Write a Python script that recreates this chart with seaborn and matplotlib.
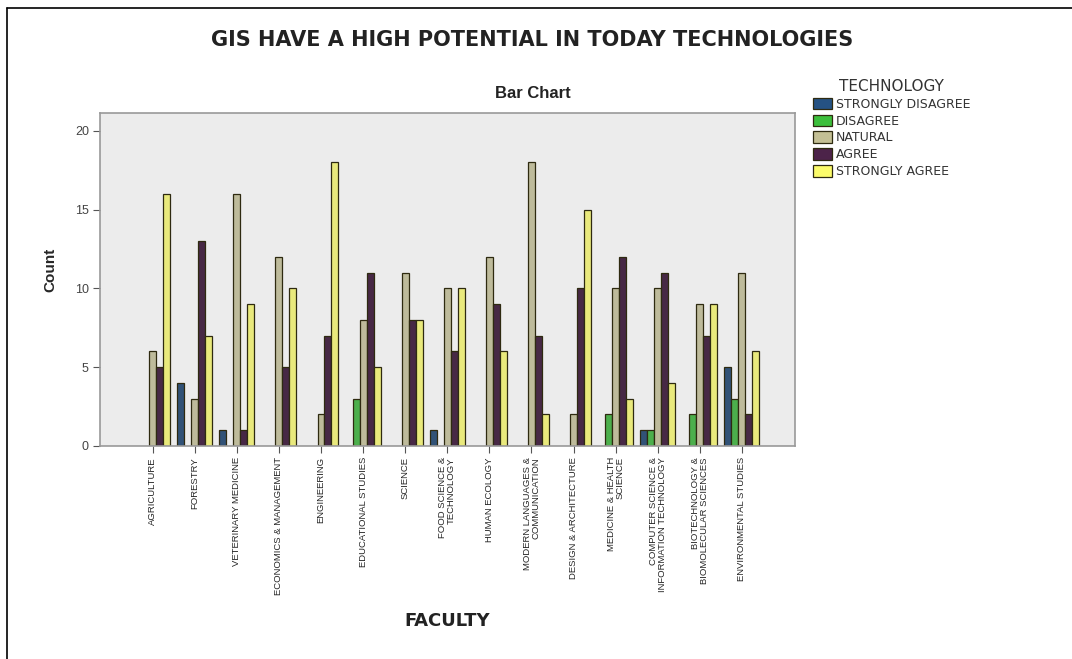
import pandas as pd
import matplotlib
matplotlib.use('Agg')
import matplotlib.pyplot as plt
import seaborn as sns
from matplotlib.lines import Line2D

faculties = [
    'AGRICULTURE', 'FORESTRY', 'VETERINARY MEDICINE', 'ECONOMICS & MANAGEMENT',
    'ENGINEERING', 'EDUCATIONAL STUDIES', 'SCIENCE', 'FOOD SCIENCE &\nTECHNOLOGY',
    'HUMAN ECOLOGY', 'MODERN LANGUAGES &\nCOMMUNICATION', 'DESIGN & ARCHITECTURE',
    'MEDICINE & HEALTH\nSCIENCE', 'COMPUTER SCIENCE &\nINFORMATION TECHNOLOGY',
    'BIOTECHNOLOGY &\nBIOMOLECULAR SCIENCES', 'ENVIRONMENTAL STUDIES',
]
levels = ['STRONGLY DISAGREE', 'DISAGREE', 'NATURAL', 'AGREE', 'STRONGLY AGREE']

strongly_disagree = [0, 4, 1, 0, 0, 0, 0, 1, 0, 0, 0, 0, 1, 0, 5]
disagree = [0, 0, 0, 0, 0, 3, 0, 0, 0, 0, 0, 2, 1, 2, 3]
natural = [6, 3, 16, 12, 2, 8, 11, 10, 12, 18, 2, 10, 10, 9, 11]
agree = [5, 13, 1, 5, 7, 11, 8, 6, 9, 7, 10, 12, 11, 7, 2]
strongly_agree = [16, 7, 9, 10, 18, 5, 8, 10, 6, 2, 15, 3, 4, 9, 6]

colors = ['#255283', '#3cbf3c', '#c4c095', '#4c2349', '#fbfb6a']

rows = []
for lvl, vals in zip(levels, [strongly_disagree, disagree, natural, agree, strongly_agree]):
    for fac, v in zip(faculties, vals):
        if v > 0:
            rows.append({'FACULTY': fac, 'TECHNOLOGY': lvl, 'Count': v})
df = pd.DataFrame(rows)

sns.set_style('white')
plt.rcParams['font.family'] = ['Liberation Sans', 'DejaVu Sans']

fig = plt.figure(figsize=(10.72, 6.59), dpi=100)
ax = fig.add_axes([100 / 1072, 1 - 446 / 659, 695 / 1072, 333 / 659])
ax.set_facecolor('#ececec')

sns.barplot(data=df, x='FACULTY', y='Count', hue='TECHNOLOGY', order=faculties,
            hue_order=levels, palette=colors, width=0.83, edgecolor='#2e2a10',
            linewidth=0.9, ax=ax, legend=False)

ax.set_xlim(-1.25, 15.26)
ax.set_ylim(0, 21.14)
ax.set_yticks([0, 5, 10, 15, 20])
ax.set_yticklabels(['0', '5', '10', '15', '20'], fontsize=9, color='#444444')
ax.set_xticks(range(len(faculties)))
ax.set_xticklabels(faculties, rotation=90, fontsize=6.8, va='top', ha='center',
                   multialignment='right', linespacing=0.95)
ax.tick_params(axis='both', length=5, width=0.8, color='#555555', direction='out',
               bottom=True, left=True, pad=3)
for s in ax.spines.values():
    s.set_color('#999999')
    s.set_linewidth(1.2)
ax.set_xlabel('')
ax.set_ylabel('')

fig.text(532 / 1072, 1 - 40 / 659, 'GIS HAVE A HIGH POTENTIAL IN TODAY TECHNOLOGIES',
         ha='center', va='center', fontsize=15, fontweight='bold',
         family='DejaVu Sans', color='#222222')
fig.text(533 / 1072, 1 - 93 / 659, 'Bar Chart', ha='center', va='center',
         fontsize=12, fontweight='bold', color='#222222')
fig.text(50 / 1072, 1 - 270 / 659, 'Count', ha='center', va='center', rotation=90,
         fontsize=11, fontweight='bold')
fig.text(447 / 1072, 1 - 621 / 659, 'FACULTY', ha='center', va='center',
         fontsize=13, fontweight='bold', family='DejaVu Sans', color='#222222')

handles = [plt.Rectangle((0, 0), 1, 1, facecolor=c, edgecolor='#2e2a10', linewidth=0.9)
           for c in colors]
leg = fig.legend(handles, levels, title='TECHNOLOGY', loc='upper left',
                 bbox_to_anchor=(808 / 1072, 1 - 74 / 659), frameon=False,
                 prop={'family': 'DejaVu Sans', 'size': 9},
                 title_fontproperties={'family': 'DejaVu Sans', 'size': 11},
                 handlelength=1.5, handleheight=1.05,
                 handletextpad=0.3, labelspacing=0.3, borderaxespad=0)
for t in leg.get_texts():
    t.set_color('#333333')
leg.get_title().set_color('#333333')

# outer frame
fig.add_artist(Line2D([7 / 1072, 1], [1 - 8 / 659, 1 - 8 / 659], color='black',
                      linewidth=1.2, transform=fig.transFigure))
fig.add_artist(Line2D([7 / 1072, 7 / 1072], [0, 1 - 8 / 659], color='black',
                      linewidth=1.2, transform=fig.transFigure))

fig.savefig('out.png', dpi=100)
